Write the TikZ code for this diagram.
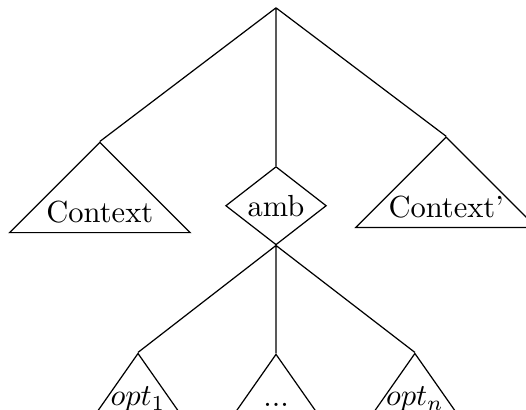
\documentclass[tikz,border=0pt]{standalone}
\usetikzlibrary{shapes.geometric}
\tikzstyle{roof}=[isosceles triangle,shape border rotate=90,isosceles triangle apex angle=90,draw,inner sep=0,anchor=apex,minimum height=1.04cm]
\tikzstyle{leaf}=[roof,isosceles triangle apex angle=70,minimum height=.67cm]
\tikzstyle{intext}=[anchor=base,inner sep=0,yshift=3.6pt]
\tikzstyle{leaftext}=[intext,yshift=-1.4pt]
\tikzstyle{choice}=[diamond,draw,inner sep=0,minimum width=1.16cm,minimum height=.8cm]
\begin{document}
\begin{tikzpicture}
\useasboundingbox (-3.18,.09) rectangle (2.88,-4.63);
\clip (-3.18,.09) rectangle (2.88,-4.63);
\coordinate (top) at (0,0);
\node[roof,label={[intext]south:Context}] (ctx) at (-2.03,-1.54) {};
\node[roof,label={[intext]south:Context'}] (ctx2) at (1.96,-1.48) {};
\node[choice] (amb) at (0,-2.28) {amb};
\node[leaf,label={[leaftext]south:$opt_1$}] (opt1) at (-1.59,-3.97) {};
\node[leaf,label={[leaftext]south:...}] (optdots) at (0,-3.98) {};
\node[leaf,label={[leaftext]south:$opt_n$}] (optn) at (1.60,-3.97) {};
\draw (top)--(ctx.apex) (top)--(amb.north) (top)--(ctx2.apex);
\draw (amb.south)--(opt1.apex) (amb.south)--(optdots.apex) (amb.south)--(optn.apex);
\end{tikzpicture}
\end{document}
